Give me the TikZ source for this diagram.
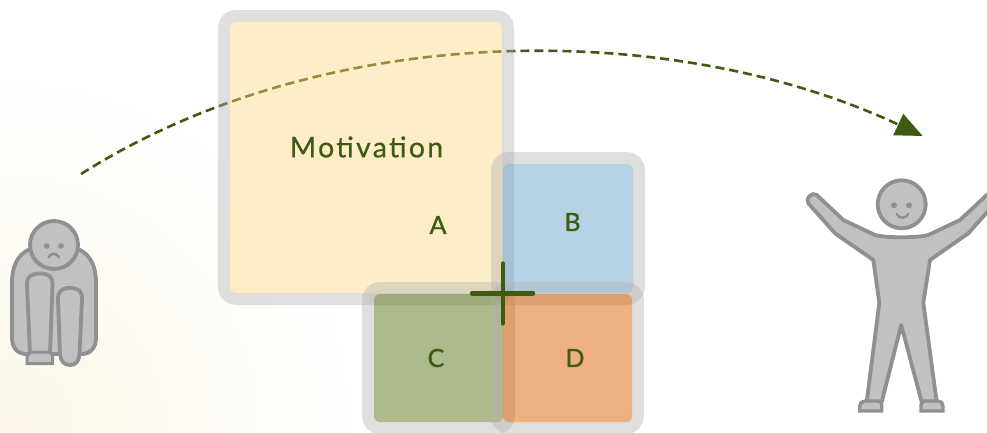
\documentclass[tikz,border=0pt]{standalone}
\usepackage{fontspec}
\setmainfont{Lato}
\newfontfamily\labelfont[FakeBold=1.2,LetterSpace=2]{Lato}
\newfontfamily\titlefont[FakeBold=0.5,LetterSpace=8]{Lato}
\usetikzlibrary{arrows.meta}
\definecolor{leaf}{HTML}{3F5B12}
\definecolor{creamA}{HTML}{FCD680}
\definecolor{blueB}{HTML}{6FA7CD}
\definecolor{greenC}{HTML}{5D791B}
\definecolor{orangeD}{HTML}{DF6300}
\definecolor{edgegray}{HTML}{B1B1B1}
\definecolor{figfill}{HTML}{C1C1C1}
\definecolor{figline}{HTML}{8E9190}
\definecolor{warm}{HTML}{FCF7E9}
\tikzset{
  panelfill/.style={rounded corners=6pt,inner sep=0pt,outer sep=0pt,fill opacity=.5},
  panelframe/.style={rounded corners=12pt,draw=edgegray,draw opacity=.4,line width=12pt,inner sep=0pt,outer sep=0pt},
  tag/.style={text=leaf,font=\labelfont\fontsize{25}{27}\selectfont,inner sep=0pt},
  figure part/.style={fill=figfill,draw=figline,line width=3.8pt,line join=round},
  figure face/.style={fill=figline,draw=none},
  mouth/.style={draw=figline,line width=2.4pt,line cap=round},
}
\begin{document}
\begin{tikzpicture}[x=1pt,y=-1pt]
\useasboundingbox (0,0) rectangle (987,432);
\clip (0,0) rectangle (987,432);
\fill[white] (0,0) rectangle (987,432);
\shade[inner color=warm,outer color=white] (0,432) circle (370);

% arrow (lies under the translucent panel A)
\coordinate (from) at (81,174);
\coordinate (to) at (922.7,136);
\draw[leaf,line width=2.6pt,dash pattern=on 9pt off 5pt,-{Triangle[length=27pt,width=23pt]}]
  (from) .. controls (326,19) and (673,19) .. (to);

% panels: frame then translucent fill, in stacking order
\node[panelframe,minimum width=284pt,minimum height=283pt] (Af) at (366,157.5) {};
\node[panelfill,fill=creamA,fill opacity=.43,minimum width=272pt,minimum height=271pt] (A) at (366,157.5) {};
\node[panelframe,minimum width=142pt,minimum height=141pt] (Bf) at (568,228.5) {};
\node[panelfill,fill=blueB,minimum width=130pt,minimum height=129pt] (B) at (568,228.5) {};
\node[panelframe,minimum width=141pt,minimum height=140pt] (Cf) at (438.5,358) {};
\node[panelfill,fill=greenC,minimum width=129pt,minimum height=128pt] (C) at (438.5,358) {};
\node[panelframe,minimum width=141pt,minimum height=140pt] (Df) at (567.5,358) {};
\node[panelfill,fill=orangeD,minimum width=129pt,minimum height=128pt] (D) at (567.5,358) {};

% labels
\node[text=leaf,font=\titlefont\fontsize{28.5}{30}\selectfont,inner sep=0pt] (title) at (366.5,147) {Motivation};
\node[tag] (la) at (438,225) {A};
\node[tag] (lb) at (572.5,222) {B};
\node[tag] (lc) at (436,358) {C};
\node[tag] (ld) at (575,358) {D};

% plus
\coordinate (pl) at (472,293.3);
\coordinate (pr) at (533,293.3);
\coordinate (pt) at (502.7,263.5);
\coordinate (pb) at (502.7,323.5);
\draw[leaf,line width=4.4pt,line cap=round] (pl) -- (pr) (pt) -- (pb);

% sad figure
\draw[figure part] (28,250) .. controls (18,255) and (12,266) .. (12,282)
  -- (12,338) .. controls (12,348) and (18,354) .. (26,354)
  -- (82,354) .. controls (90,354) and (96,348) .. (96,338)
  -- (96,282) .. controls (96,266) and (90,255) .. (80,250) -- cycle;
\draw[figure part] (30,354) -- (27,285) .. controls (26.5,276) and (32,273.5) .. (40,273.5)
  .. controls (48,273.5) and (53,276) .. (52.5,285) -- (50,354);
\draw[figure part,line width=3pt,line join=miter] (27,363.5) -- (27,356) -- (31,352) -- (50,352) -- (52.5,356) -- (52.5,363.5) -- cycle;
\draw[figure part] (60,354) -- (58,300) .. controls (57.5,291) and (62,288) .. (70,288)
  .. controls (78,288) and (83,291) .. (82,300) -- (79.5,354)
  .. controls (79,361) and (76,365) .. (70,365) .. controls (64,365) and (60.5,361) .. (60,354) -- cycle;
\node[figure part,circle,minimum size=48pt,inner sep=0pt] (sadhead) at (54,245) {};
\fill[figure face] (46.7,246) circle (2.8) (61,246) circle (2.8);
\draw[mouth] (48.5,257.5) .. controls (51,252.5) and (56.5,252.5) .. (59,257.5);

% happy figure
\draw[figure part]
  (816.7,195) -- (843.3,220) -- (875,235) .. controls (885,238) and (918,238) .. (928.3,235)
  -- (960,220) -- (986.7,195)
  .. controls (990,192) and (998,199) .. (995,203.3)
  -- (968.3,233.3) -- (930,260) -- (923.3,302.7) -- (936.7,402) -- (921.7,402) -- (901.2,325)
  -- (881.7,402) -- (866.7,402) -- (879.3,302.7) -- (873.3,260) -- (835,233.3) -- (808.3,203.3)
  .. controls (805,199) and (812,191) .. (816.7,195) -- cycle;
\draw[figure part,line width=3.4pt,line join=miter] (859.7,411) -- (859.7,406) .. controls (859.7,403) and (862,401) .. (865,401) -- (878,401) .. controls (880.5,401) and (881.7,403) .. (881.7,405) -- (881.7,411) -- cycle;
\draw[figure part,line width=3.4pt,line join=miter] (943,411) -- (943,406) .. controls (943,403) and (940.7,401) .. (937.7,401) -- (924.7,401) .. controls (922.2,401) and (921,403) .. (921,405) -- (921,411) -- cycle;
\node[figure part,circle,minimum size=48pt,inner sep=0pt] (happyhead) at (901.7,204.3) {};
\fill[figure face] (894,205.3) circle (3) (909,205.3) circle (3);
\draw[mouth] (896.7,214) .. controls (899,219) and (906,219) .. (908.3,214);
\end{tikzpicture}
\end{document}
